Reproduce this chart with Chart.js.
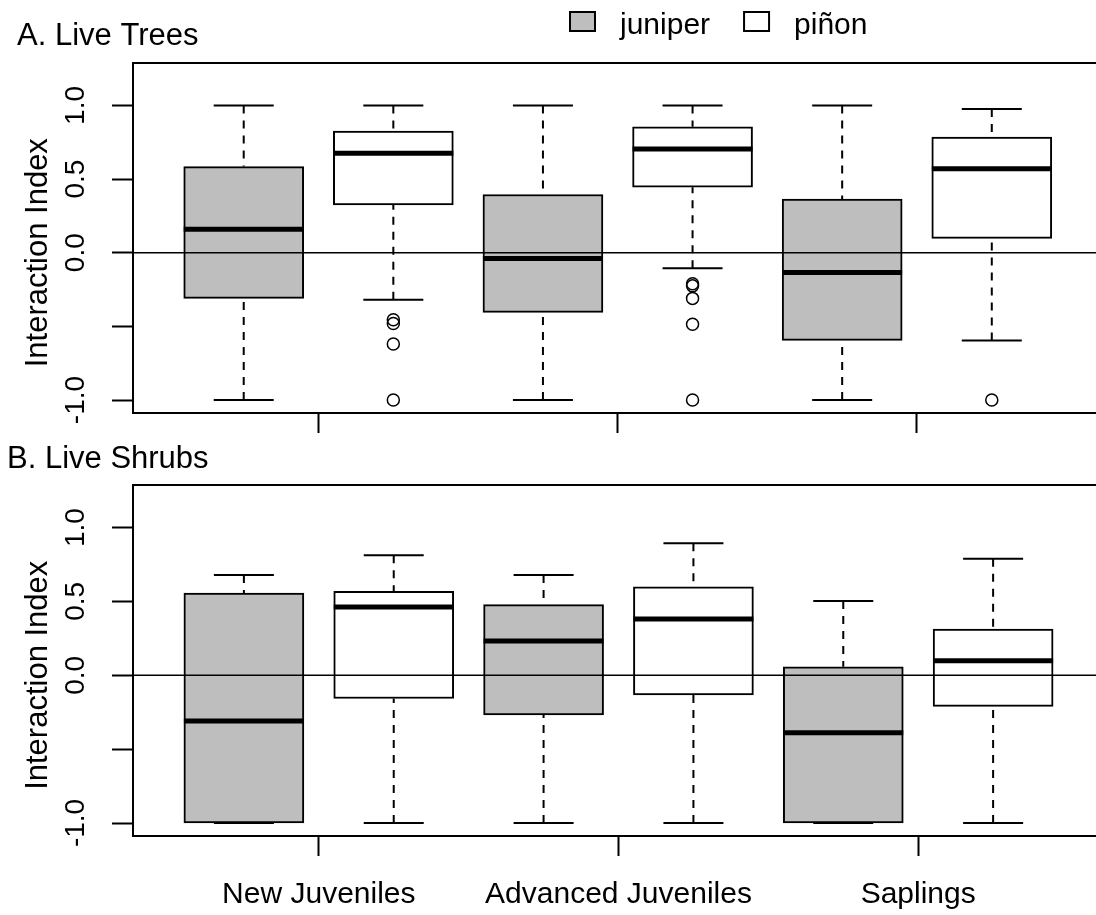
<!DOCTYPE html>
<html lang="en"><head>
<meta charset="UTF-8">
<title>Interaction Index - Live Trees and Live Shrubs</title>
<script src="https://cdn.jsdelivr.net/npm/chart.js"></script>
<style>
  html, body { margin: 0; padding: 0; background: #fff; overflow: hidden; }
  body { width: 1096px; height: 915px; position: relative; }
  canvas { position: absolute; left: 0; }
  #trees { top: 0; }
  #shrubs { top: 440px; }
</style>
</head><body>
<canvas id="trees" width="1110" height="440"></canvas>
<canvas id="shrubs" width="1110" height="475"></canvas>
<script>
const categories = ['New Juveniles', 'Advanced Juveniles', 'Saplings'];
const speciesNames = ['juniper', 'piñon'];

// one row per category: [lower whisker, Q1, median, Q3, upper whisker]
const treesJuniper = [
  [-1.00, -0.31, 0.16, 0.585, 1.00],
  [-1.00, -0.405, -0.04, 0.395, 1.00],
  [-1.00, -0.595, -0.135, 0.365, 1.00]
];
const treesPinon = [
  [-0.32, 0.325, 0.675, 0.825, 1.00],
  [-0.105, 0.445, 0.705, 0.855, 1.00],
  [-0.595, 0.097, 0.57, 0.785, 0.975]
];
const treesJuniperOutliers = [[], [], []];
const treesPinonOutliers = [
  [-0.455, -0.48, -0.62, -1.00],
  [-0.21, -0.225, -0.31, -0.485, -1.00],
  [-1.00]
];

const shrubsJuniper = [
  [-1.00, -1.00, -0.31, 0.557, 0.678],
  [-1.00, -0.268, 0.232, 0.478, 0.678],
  [-1.00, -1.00, -0.389, 0.057, 0.502]
];
const shrubsPinon = [
  [-1.00, -0.157, 0.462, 0.568, 0.813],
  [-1.00, -0.133, 0.381, 0.599, 0.894],
  [-1.00, -0.211, 0.099, 0.313, 0.788]
];
const shrubsJuniperOutliers = [[], [], []];
const shrubsPinonOutliers = [[], [], []];

const yTicks = [-1, -0.5, 0, 0.5, 1];
const yTickLabels = ['-1.0', '', '0.0', '0.5', '1.0']; // R drops the -0.5 label (overlap)

const FONT = "'Liberation Sans', Arial, sans-serif";
Chart.defaults.font.family = FONT;
Chart.defaults.color = '#000';

// x position of a box: two boxes per category
function boxPos(g, s) { return 2 * g + s + 1; }

// whiskers, staples, medians and the zero line, all through the scales
const boxWhiskers = {
  id: 'boxWhiskers',
  afterDatasetsDraw(chart) {
    const { ctx, chartArea, scales: { y } } = chart;
    ctx.save();
    ctx.strokeStyle = '#000';
    chart.data.datasets.forEach((ds, i) => {
      if (!ds.stats) return;
      const meta = chart.getDatasetMeta(i);
      ds.stats.forEach((r, g) => {
        const bar = meta.data[g];
        const cx = bar.x;
        const half = bar.width / 2;
        const [lo, q1, med, q3, hi] = r.map(v => y.getPixelForValue(v));
        ctx.lineWidth = 2;
        ctx.setLineDash([8, 7]);
        ctx.beginPath();
        ctx.moveTo(cx, lo); ctx.lineTo(cx, q1);
        ctx.moveTo(cx, hi); ctx.lineTo(cx, q3);
        ctx.stroke();
        ctx.setLineDash([]);
        ctx.beginPath();
        ctx.moveTo(cx - half / 2, lo); ctx.lineTo(cx + half / 2, lo);
        ctx.moveTo(cx - half / 2, hi); ctx.lineTo(cx + half / 2, hi);
        ctx.stroke();
        ctx.lineWidth = 5;
        ctx.beginPath();
        ctx.moveTo(cx - half, med); ctx.lineTo(cx + half, med);
        ctx.stroke();
      });
    });
    // abline(h = 0)
    const y0 = y.getPixelForValue(0);
    ctx.lineWidth = 1.5;
    ctx.beginPath();
    ctx.moveTo(chartArea.left, y0); ctx.lineTo(chartArea.right, y0);
    ctx.stroke();
    // box()
    ctx.lineWidth = 2;
    ctx.strokeRect(chartArea.left, chartArea.top, chartArea.right - chartArea.left, chartArea.bottom - chartArea.top);
    ctx.restore();
  }
};

// panel title, y title centred on 0, and the legend
const panelText = {
  id: 'panelText',
  afterDraw(chart, args, opts) {
    const { ctx, scales: { y } } = chart;
    ctx.save();
    ctx.fillStyle = '#000';
    ctx.textBaseline = 'alphabetic';
    ctx.font = '31px ' + FONT;
    ctx.textAlign = 'left';
    ctx.fillText(opts.title, opts.titleX, opts.titleY);

    ctx.save();
    ctx.translate(opts.yTitleX, y.getPixelForValue(0));
    ctx.rotate(-Math.PI / 2);
    ctx.textAlign = 'center';
    ctx.fillText(opts.yTitle, 0, 0);
    ctx.restore();

    if (opts.legend) {
      ctx.font = '30px ' + FONT;
      let lx = opts.legendX;
      const ly = opts.legendY;
      chart.data.datasets.filter(d => d.stats).forEach(ds => {
        ctx.fillStyle = ds.backgroundColor;
        ctx.fillRect(lx, ly, 25, 19);
        ctx.strokeStyle = '#000';
        ctx.lineWidth = 2;
        ctx.strokeRect(lx, ly, 25, 19);
        ctx.fillStyle = '#000';
        ctx.fillText(ds.label, lx + 50, ly + 22);
        lx += 50 + ctx.measureText(ds.label).width + 34;
      });
    }
    ctx.restore();
  }
};

function makePanel(id, cfg) {
  const fills = ['#BEBEBE', '#FFFFFF'];
  const boxes = cfg.stats.map((rows, s) => ({
    type: 'bar',
    label: speciesNames[s],
    data: rows.map((r, g) => ({ x: boxPos(g, s), y: [r[1], r[3]] })),
    stats: rows,
    backgroundColor: fills[s],
    borderColor: '#000',
    borderWidth: 2,
    borderSkipped: false,
    barThickness: 120,
    grouped: false,
    order: 2
  }));
  const outPts = [];
  cfg.outliers.forEach((rows, s) => rows.forEach((vals, g) => vals.forEach(v => outPts.push({ x: boxPos(g, s), y: v }))));
  const outliers = {
    type: 'scatter',
    label: 'outliers',
    data: outPts,
    pointStyle: 'circle',
    pointRadius: 6,
    pointBorderWidth: 1.5,
    pointBorderColor: '#000',
    pointBackgroundColor: 'rgba(0,0,0,0)',
    order: 1
  };

  return new Chart(document.getElementById(id), {
    type: 'bar',
    data: { datasets: [...boxes, outliers] },
    options: {
      responsive: false,
      animation: false,
      events: [],
      layout: { padding: { top: cfg.top, right: 6, bottom: 0, left: 0 } },
      plugins: {
        legend: { display: false },
        tooltip: { enabled: false },
        panelText: {
          title: cfg.title, titleX: cfg.titleX, titleY: cfg.titleY,
          yTitle: 'Interaction Index', yTitleX: 46.5,
          legend: cfg.legend, legendX: 570, legendY: 12
        }
      },
      scales: {
        x: {
          type: 'linear',
          min: 0.26,
          max: 6.74,
          offset: false,
          afterBuildTicks: s => { s.ticks = categories.map((c, g) => ({ value: 2 * g + 1.5 })); },
          afterFit: s => { s.height = cfg.xAxisHeight; },
          ticks: {
            autoSkip: false, minRotation: 0, maxRotation: 0, padding: 21,
            font: { size: 30 },
            callback: (v, i) => cfg.showNames ? categories[i] : ''
          },
          grid: { drawOnChartArea: false, offset: false, tickLength: 20, tickWidth: 2, tickColor: '#000' },
          border: { display: false }
        },
        y: {
          min: -1.088,
          max: 1.288,
          afterBuildTicks: s => { s.ticks = yTicks.map(v => ({ value: v })); },
          afterFit: s => { s.width = 133; },
          ticks: {
            autoSkip: false, minRotation: 90, maxRotation: 90, crossAlign: 'center', padding: 12,
            font: { size: 28, lineHeight: 1 },
            callback: (v, i) => yTickLabels[i]
          },
          grid: { drawOnChartArea: false, tickLength: 21, tickWidth: 2, tickColor: '#000' },
          border: { display: false }
        }
      }
    },
    plugins: [boxWhiskers, panelText]
  });
}

makePanel('trees', {
  title: 'A. Live Trees', titleX: 17, titleY: 45, legend: true,
  top: 63, xAxisHeight: 27, showNames: false,
  stats: [treesJuniper, treesPinon],
  outliers: [treesJuniperOutliers, treesPinonOutliers]
});

makePanel('shrubs', {
  title: 'B. Live Shrubs', titleX: 7, titleY: 28, legend: false,
  top: 45, xAxisHeight: 79, showNames: true,
  stats: [shrubsJuniper, shrubsPinon],
  outliers: [shrubsJuniperOutliers, shrubsPinonOutliers]
});
</script>
</body></html>
